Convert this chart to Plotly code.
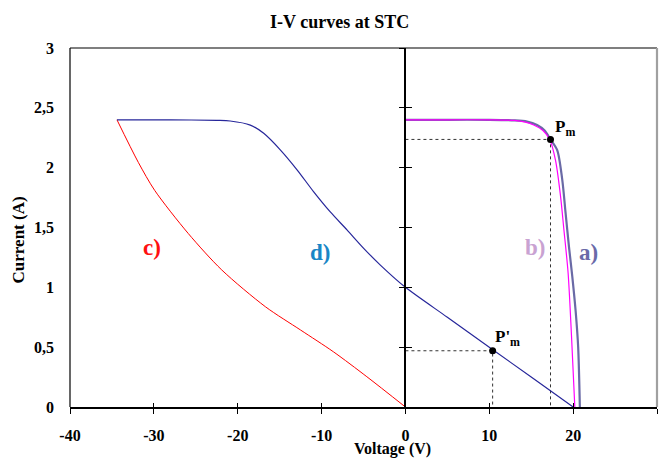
import plotly.graph_objects as go

# ---- I-V data (voltage in V, current in A) ----
# a) single module, nominal
v_a = [0, 5, 10, 13, 14.5, 15.7, 16.6, 17.3, 18.1, 18.7, 19.1, 19.5, 19.9, 20.3, 20.6, 20.8]
i_a = [2.4, 2.4, 2.4, 2.395, 2.385, 2.356, 2.31, 2.236, 2.147, 1.90, 1.62, 1.34, 1.09, 0.80, 0.50, 0.0]

# b) single module, slightly mismatched
v_b = [0, 5, 10, 13, 14.3, 15.3, 16.4, 17.25, 17.9, 18.5, 18.9, 19.4, 19.8, 20.2]
i_b = [2.4, 2.4, 2.4, 2.395, 2.38, 2.356, 2.31, 2.23, 2.06, 1.76, 1.48, 1.12, 0.60, 0.0]

# c) reverse-bias branch
v_c = [-34.4, -31.85, -29.9, -25.9, -21.9, -16.7, -12.5, -8.6, -4.6, 0]
i_c = [2.4, 2.044, 1.81, 1.45, 1.145, 0.838, 0.643, 0.462, 0.253, 0.0]

# d) resulting string curve
v_d = [-34.4, -28, -22.5, -20.9, -18.5, -16.9, -14.9, -12.9, -10.96, -8.96, -6.97, -4.98, -2.99, 0, 5, 10, 15, 20]
i_d = [2.4, 2.4, 2.395, 2.39, 2.356, 2.287, 2.147, 1.98, 1.80, 1.63, 1.48, 1.326, 1.186, 1.0, 0.75, 0.5, 0.25, 0.0]

# maximum power points
pm = (17.3, 2.236)
pm_prime = (10.4, 0.47)

x_ticks = [-40, -30, -20, -10, 0, 10, 20, 30]
x_tick_text = ["-40", "-30", "-20", "-10", "0", "10", "20", "30"]
y_ticks = [0, 0.5, 1, 1.5, 2, 2.5, 3]

FONT = "Liberation Serif"

fig = go.Figure()

# dashed guides to the maximum power points
for (vm, im) in (pm, pm_prime):
    fig.add_trace(go.Scatter(
        x=[0, vm, vm], y=[im, im, 0], mode="lines",
        line=dict(color="#333333", width=1, dash="3px,3px"),
        hoverinfo="skip", showlegend=False))

spl = dict(shape="spline", smoothing=0.8)
fig.add_trace(go.Scatter(x=v_c, y=i_c, mode="lines", line=dict(color="#ff0000", width=1, **spl), showlegend=False))
fig.add_trace(go.Scatter(x=v_d, y=i_d, mode="lines", line=dict(color="#26269a", width=1.2, **spl), showlegend=False))
fig.add_trace(go.Scatter(x=v_a, y=i_a, mode="lines", line=dict(color="#6a6aa6", width=2.2, **spl), showlegend=False))
fig.add_trace(go.Scatter(x=v_b, y=i_b, mode="lines", line=dict(color="#ff00ff", width=1.2, **spl), showlegend=False))

fig.add_trace(go.Scatter(
    x=[pm[0], pm_prime[0]], y=[pm[1], pm_prime[1]], mode="markers",
    marker=dict(color="black", size=7), showlegend=False))

# curve labels
labels = [("c)", -30.2, 1.33, "#ff1010"), ("d)", -10.2, 1.29, "#1a86c6"),
          ("b)", 15.4, 1.33, "#c9a2d2"), ("a)", 21.8, 1.29, "#6a6aa8")]
for txt, x, y, col in labels:
    fig.add_annotation(x=x, y=y, text=f"<b>{txt}</b>", showarrow=False,
                       font=dict(family=FONT, size=23, color=col))

fig.add_annotation(x=pm[0], y=pm[1], text="<b>P<sub>m</sub></b>", showarrow=False,
                   xanchor="left", yanchor="bottom", xshift=2, yshift=-2,
                   font=dict(family=FONT, size=17, color="black"))
fig.add_annotation(x=pm_prime[0], y=pm_prime[1], text="<b>P'<sub>m</sub></b>", showarrow=False,
                   xanchor="left", yanchor="bottom", xshift=0, yshift=0,
                   font=dict(family=FONT, size=17, color="black"))

# axis titles
fig.add_annotation(xref="paper", yref="paper", x=0.55, y=-0.118, xanchor="center", yanchor="middle",
                   text="<b>Voltage (V)</b>", showarrow=False,
                   font=dict(family=FONT, size=16, color="black"))
fig.add_annotation(xref="paper", yref="paper", x=-0.088, y=0.465, xanchor="center", yanchor="middle",
                   text="<b>Current (A)</b>", textangle=-90, showarrow=False,
                   font=dict(family=FONT, size=17, color="black"))

# plot frame: black top/left, grey right
fig.add_shape(type="line", xref="paper", yref="paper", x0=0, x1=1, y0=1, y1=1, line=dict(color="black", width=1.2))
fig.add_shape(type="line", xref="paper", yref="paper", x0=0, x1=0, y0=0, y1=1, line=dict(color="black", width=1.2))
fig.add_shape(type="line", xref="paper", yref="paper", x0=1, x1=1, y0=0, y1=1, line=dict(color="#a0a0a0", width=2.2))

zero_pos = (0 - x_ticks[0]) / (x_ticks[-1] - x_ticks[0])

fig.update_layout(
    width=662, height=460,
    margin=dict(l=70, r=5, t=48, b=53),
    paper_bgcolor="white", plot_bgcolor="white",
    separators=",.",
    title=dict(text="<b>I-V curves at STC</b>", x=0.513, xanchor="center", xref="container",
               y=0.952, yanchor="middle", yref="container",
               font=dict(family=FONT, size=18, color="black")),
    xaxis=dict(range=[-40, 30], tickvals=x_ticks, ticktext=x_tick_text, showgrid=False, zeroline=False,
               showline=True, linecolor="black", linewidth=2,
               ticks="outside", ticklen=5, tickwidth=1, tickcolor="black",
               ticklabelstandoff=8,
               tickfont=dict(family=FONT, size=16, color="black", weight="bold")),
    xaxis2=dict(overlaying="x", matches="x", anchor="y", side="bottom", range=[-40, 30],
                tickvals=x_ticks, showgrid=False, zeroline=False, showticklabels=False,
                ticks="inside", ticklen=4, tickwidth=1, tickcolor="black"),
    yaxis=dict(range=[0, 3], tickvals=y_ticks, showgrid=False, zeroline=False,
               showline=False, ticks="", ticklabelstandoff=15,
               tickfont=dict(family=FONT, size=16, color="black", weight="bold")),
    yaxis2=dict(overlaying="y", matches="y", anchor="free", position=zero_pos, range=[0, 3],
                tickvals=y_ticks, showgrid=False, zeroline=False, showticklabels=False,
                showline=True, linecolor="black", linewidth=1.5,
                ticks="outside", ticklen=6, tickwidth=1, tickcolor="black"),
    yaxis3=dict(overlaying="y", matches="y", anchor="free", position=zero_pos, range=[0, 3],
                tickvals=y_ticks, showgrid=False, zeroline=False, showticklabels=False,
                ticks="inside", ticklen=6, tickwidth=1, tickcolor="black"),
)

# empty traces so the helper axes are drawn
fig.add_trace(go.Scatter(x=[None], y=[None], xaxis="x2", yaxis="y2", showlegend=False, hoverinfo="skip"))
fig.add_trace(go.Scatter(x=[None], y=[None], xaxis="x", yaxis="y3", showlegend=False, hoverinfo="skip"))

fig.write_html("out.html")
